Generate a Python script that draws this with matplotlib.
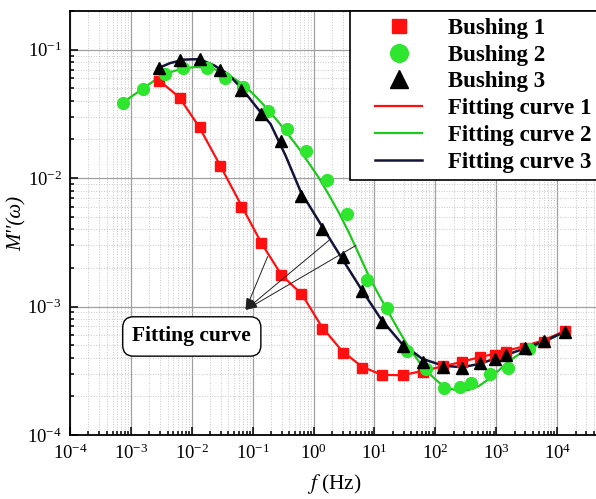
import matplotlib
matplotlib.use("Agg")
import matplotlib.pyplot as plt
from matplotlib.lines import Line2D
from matplotlib.legend_handler import HandlerLine2D
from matplotlib.ticker import LogLocator, NullFormatter

# Data pengukuran M''(omega) tiga bushing
freq_13 = [2.9e-3, 6.3e-3, 1.35e-2, 2.95e-2, 6.4e-2, 0.139, 0.296, 0.632, 1.35, 2.99, 6.2,
           13.3, 29.2, 63.7, 133, 274, 533, 942, 1466, 3013, 6124, 13400]
bushing_1 = [0.0575, 0.0423, 0.0248, 0.0124, 0.00601, 0.00310, 0.00175, 0.00125, 6.68e-4,
             4.36e-4, 3.32e-4, 2.91e-4, 2.91e-4, 3.09e-4, 3.43e-4, 3.69e-4, 4.03e-4, 4.20e-4,
             4.46e-4, 4.79e-4, 5.33e-4, 6.41e-4]
bushing_3 = [0.0716, 0.0832, 0.0847, 0.0697, 0.0488, 0.0315, 0.0195, 0.00731, 0.00402,
             0.00245, 0.00131, 7.62e-4, 4.91e-4, 3.73e-4, 3.38e-4, 3.32e-4, 3.63e-4, 3.92e-4,
             4.21e-4, 4.77e-4, 5.43e-4, 6.37e-4]

freq_2 = [7.28e-4, 1.61e-3, 3.61e-3, 7.21e-3, 1.77e-2, 3.48e-2, 7.0e-2, 0.181, 0.361, 0.764,
          1.65, 3.52, 7.67, 16.1, 34.3, 69.2, 137, 249, 389, 778, 1563, 3381]
bushing_2 = [0.0384, 0.0497, 0.0646, 0.0719, 0.0726, 0.0601, 0.0508, 0.0331, 0.0241, 0.0163,
             0.0096, 0.00526, 0.00160, 9.66e-4, 4.54e-4, 3.25e-4, 2.31e-4, 2.36e-4, 2.52e-4,
             3.00e-4, 3.30e-4, 4.64e-4]

# Kurva fitting
fit1_f = [2.92e-3, 6.25e-3, 1.33e-2, 2.96e-2, 6.56e-2, 0.140, 0.299, 0.640, 1.37, 2.92, 6.22,
          13.3, 28.4, 63.0, 135, 277, 527, 931, 1466, 3013, 6194, 13240]
fit1_m = [0.0575, 0.0425, 0.0249, 0.0124, 0.00609, 0.00310, 0.00175, 0.00125, 6.93e-4, 4.52e-4,
          3.40e-4, 2.94e-4, 2.92e-4, 3.16e-4, 3.43e-4, 3.72e-4, 4.03e-4, 4.29e-4, 4.52e-4,
          4.94e-4, 5.50e-4, 6.45e-4]

fit2_f = [7.19e-4, 1.09e-3, 1.60e-3, 2.42e-3, 3.67e-3, 5.37e-3, 7.86e-3, 1.15e-2, 1.67e-2,
          2.45e-2, 3.58e-2, 5.23e-2, 7.64e-2, 0.116, 0.176, 0.267, 0.390, 0.570, 0.834, 1.22,
          1.78, 2.60, 3.80, 5.56, 8.11, 11.9, 17.3, 25.3, 37.0, 54.1, 79.1, 116, 169, 247, 361,
          527, 769, 1125, 1644, 2404, 3508, 6683, 13240]
fit2_m = [0.0382, 0.0441, 0.0499, 0.0575, 0.0646, 0.0687, 0.0719, 0.0732, 0.0726, 0.0700,
          0.0652, 0.0586, 0.0517, 0.0425, 0.0343, 0.0272, 0.0216, 0.0171, 0.0131, 0.01005,
          0.00741, 0.00538, 0.00377, 0.00255, 0.00172, 0.00122, 8.89e-4, 6.45e-4, 4.77e-4,
          3.71e-4, 3.00e-4, 2.55e-4, 2.30e-4, 2.21e-4, 2.25e-4, 2.42e-4, 2.74e-4, 3.22e-4,
          3.78e-4, 4.28e-4, 4.68e-4, 5.40e-4, 6.34e-4]

fit3_f = [2.71e-3, 4.44e-3, 7.55e-3, 1.33e-2, 2.36e-2, 4.01e-2, 6.82e-2, 0.116, 0.197, 0.348,
          0.615, 1.32, 2.92, 6.22, 12.8, 27.4, 60.7, 135, 277, 527, 931, 1466, 3133, 6194, 13240]
fit3_m = [0.0713, 0.0787, 0.0837, 0.0844, 0.0752, 0.0641, 0.0490, 0.0356, 0.0263, 0.0149,
          0.00782, 0.00435, 0.00237, 0.00134, 7.98e-4, 5.21e-4, 3.92e-4, 3.46e-4, 3.37e-4,
          3.58e-4, 3.92e-4, 4.21e-4, 4.77e-4, 5.40e-4, 6.34e-4]

# Tick mayor sumbu x dan y
x_ticks = [1e-4, 1e-3, 1e-2, 1e-1, 1e0, 1e1, 1e2, 1e3, 1e4]
y_ticks = [1e-4, 1e-3, 1e-2, 1e-1]

# Label anotasi: ujung panah dan titik asal panah di tiap kurva
label_pos = (0.01, 5.85e-4)
arrow_tip = (0.076, 9.4e-4)
arrow_src = [(0.176, 2.45e-3), (1.78, 3.27e-3), (4.95, 2.99e-3)]

plt.rcParams["font.family"] = ["Liberation Serif", "DejaVu Serif"]
plt.rcParams["mathtext.fontset"] = "stix"

fig = plt.figure(figsize=(5.96, 4.99), dpi=100)
ax = fig.add_axes([70 / 596, 1 - 435 / 499, 528 / 596, 424 / 499])

red = "#ff1010"
green_m = "#2ee62e"
green_l = "#1ec81e"
navy = "#14143a"

l1, = ax.plot(fit1_f, fit1_m, color=red, lw=1.6, label="Fitting curve 1", zorder=3)
l2, = ax.plot(fit2_f, fit2_m, color=green_l, lw=1.6, label="Fitting curve 2", zorder=3)
l3, = ax.plot(fit3_f, fit3_m, color=navy, lw=1.8, label="Fitting curve 3", zorder=3)

p1, = ax.plot(freq_13, bushing_1, "s", color=red, ms=7, label="Bushing 1", zorder=4)
p2, = ax.plot(freq_2, bushing_2, "o", color=green_m, ms=8.5, label="Bushing 2", zorder=4)
p3, = ax.plot(freq_13, bushing_3, "^", color="black", ms=8.5, label="Bushing 3", zorder=5)

ax.set_xscale("log")
ax.set_yscale("log")
ax.set_xticks(x_ticks)
ax.set_yticks(y_ticks)
ax.set_xlim(1e-4, 10 ** 4.67)
ax.set_ylim(1e-4, 0.2)

ax.xaxis.set_minor_locator(LogLocator(base=10, subs=range(2, 10), numticks=20))
ax.xaxis.set_minor_formatter(NullFormatter())
ax.yaxis.set_minor_formatter(NullFormatter())

ax.grid(which="major", color="#a0a0a0", lw=0.9, ls="-")
ax.grid(which="minor", color="#c8c8c8", lw=0.7, ls=":")
ax.set_axisbelow(True)

ax.tick_params(which="both", direction="in", top=False, right=False, labelsize=13.5, width=1.1)
ax.tick_params(which="major", length=6, pad=6)
ax.tick_params(which="minor", length=3)
for s in ax.spines.values():
    s.set_linewidth(1.3)

ax.set_xlabel(r"$f\,\,$(Hz)", fontsize=15.5)
ax.xaxis.set_label_coords(0.5, -0.088)
ax.set_ylabel("M''(ω)", fontsize=15, fontstyle="italic")
ax.yaxis.set_label_coords(-0.082, 0.5)

leg = ax.legend(handles=[p1, p2, p3, l1, l2, l3], loc="upper right",
                bbox_to_anchor=(1.0, 1.0), borderaxespad=0, fancybox=False,
                edgecolor="black", framealpha=1, markerscale=1.5, handlelength=2.85,
                handletextpad=1.1, labelspacing=0.25, borderpad=0.3,
                handler_map={Line2D: HandlerLine2D(xpad=0.8)},
                prop={"weight": "bold", "size": 16.5})
leg.get_frame().set_linewidth(1.2)

for src in arrow_src:
    ax.annotate("", xy=arrow_tip, xytext=src,
                arrowprops=dict(arrowstyle="-|>,head_length=0.7,head_width=0.22",
                                color="#202020", lw=0.7, shrinkA=0, shrinkB=0), zorder=6)
ax.text(label_pos[0], label_pos[1], "Fitting curve", fontsize=15.5, fontweight="bold",
        ha="center", va="center", zorder=7,
        bbox=dict(boxstyle="round,pad=0.45,rounding_size=0.5", fc="white", ec="black", lw=1.0))

fig.savefig("out.png", dpi=100)
